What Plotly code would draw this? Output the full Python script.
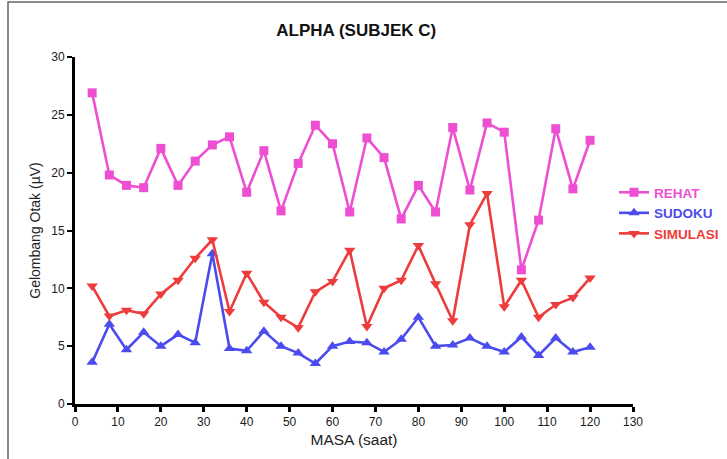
import plotly.graph_objects as go

masa = [4, 8, 12, 16, 20, 24, 28, 32, 36, 40, 44, 48, 52, 56, 60,
        64, 68, 72, 76, 80, 84, 88, 92, 96, 100, 104, 108, 112, 116, 120]
rehat = [26.9, 19.8, 18.9, 18.7, 22.1, 18.9, 21.0, 22.4, 23.1, 18.3, 21.9, 16.7, 20.8, 24.1, 22.5,
         16.6, 23.0, 21.3, 16.0, 18.9, 16.6, 23.9, 18.5, 24.3, 23.5, 11.6, 15.9, 23.8, 18.6, 22.8]
sudoku = [3.6, 6.9, 4.7, 6.2, 5.0, 6.0, 5.3, 13.0, 4.8, 4.6, 6.3, 5.0, 4.4, 3.5, 5.0,
          5.4, 5.3, 4.5, 5.6, 7.5, 5.0, 5.1, 5.7, 5.0, 4.5, 5.8, 4.2, 5.7, 4.5, 4.9]
simulasi = [10.2, 7.6, 8.1, 7.8, 9.5, 10.7, 12.6, 14.2, 8.0, 11.3, 8.8, 7.5, 6.6, 9.7, 10.6,
            13.3, 6.7, 10.0, 10.7, 13.7, 10.4, 7.2, 15.5, 18.2, 8.4, 10.7, 7.5, 8.6, 9.2, 10.9]

names = ["REHAT", "SUDOKU", "SIMULASI"]
colors = ["#EE4FD2", "#4B4BEE", "#EE3B3B"]
symbols = ["square", "triangle-up", "triangle-down"]
series = [rehat, sudoku, simulasi]

x_ticks = list(range(0, 131, 10))
y_ticks = list(range(0, 31, 5))

fig = go.Figure()
for nm, col, sym, ys in zip(names, colors, symbols, series):
    fig.add_trace(go.Scatter(
        x=masa, y=ys, mode="lines+markers",
        name=f"<b><span style='color:{col}'>{nm}</span></b>",
        line=dict(color=col, width=2.6),
        marker=dict(color=col, symbol=sym, size=10 if sym != "square" else 9),
    ))

axis_font = dict(family="Liberation Sans, Arial, sans-serif", size=12, color="#1a1a1a")

fig.update_layout(
    width=727, height=459,
    margin=dict(l=75, r=94, t=57, b=55, autoexpand=False),
    paper_bgcolor="white", plot_bgcolor="white",
    title=dict(text="<b>ALPHA (SUBJEK C)</b>", x=0.49, xanchor="center",
               y=1 - 30 / 459, yanchor="middle",
               font=dict(family="Liberation Sans, Arial, sans-serif", size=17, color="#111")),
    xaxis=dict(range=[0, 130], tickvals=x_ticks, ticktext=[str(v) for v in x_ticks],
               showgrid=False, zeroline=False, showline=True, linecolor="black", linewidth=3,
               ticks="outside", ticklen=5, tickwidth=3, tickcolor="black",
               tickfont=axis_font,
               title=dict(text="MASA (saat)", standoff=6,
                          font=dict(family="Liberation Sans, Arial, sans-serif", size=15.5, color="#222"))),
    yaxis=dict(range=[0, 30], tickvals=y_ticks, ticktext=[str(v) for v in y_ticks],
               showgrid=False, zeroline=False, showline=True, linecolor="black", linewidth=3,
               ticks="outside", ticklen=5, tickwidth=1.5, tickcolor="black",
               tickfont=axis_font,
               title=dict(text="Gelombang Otak (µV)", standoff=8,
                          font=dict(family="Liberation Sans, Arial, sans-serif", size=14, color="#222"))),
    legend=dict(x=(614 - 75) / 558, xanchor="left", y=(404 - 177) / 347, yanchor="top",
                bgcolor="rgba(0,0,0,0)",
                font=dict(family="Liberation Sans, Arial, sans-serif", size=13.5),
                itemwidth=30, tracegroupgap=0),
    showlegend=True,
)

# outer frame of the figure
fig.add_shape(type="rect", xref="paper", yref="paper",
              x0=(8 - 75) / 558, x1=1.3, y0=-0.3, y1=(404 - 2) / 347,
              line=dict(color="#666", width=1.5), fillcolor="rgba(0,0,0,0)", layer="below")

fig.write_html("out.html")
